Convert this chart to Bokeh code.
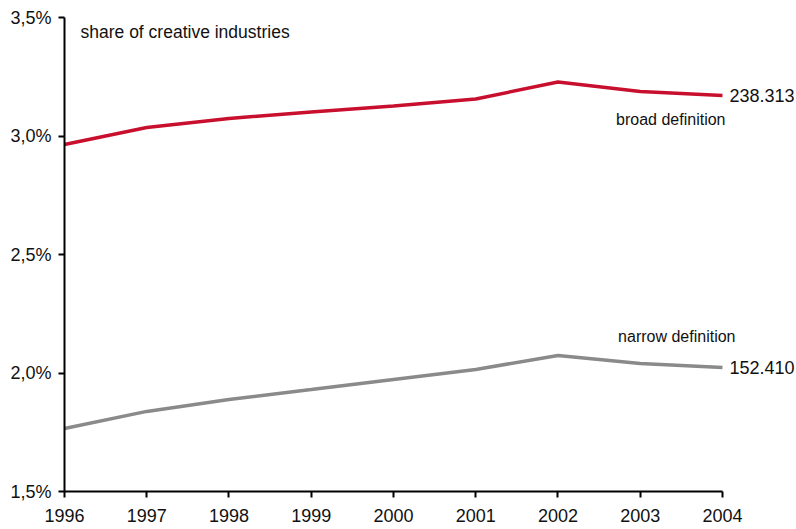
from bokeh.plotting import figure
from bokeh.models import Range1d, CustomJSTickFormatter, FixedTicker, Label
from bokeh.embed import file_html
from bokeh.resources import INLINE

years = [1996, 1997, 1998, 1999, 2000, 2001, 2002, 2003, 2004]
broad = [2.964, 3.036, 3.074, 3.101, 3.127, 3.156, 3.228, 3.188, 3.171]
narrow = [1.766, 1.838, 1.888, 1.930, 1.973, 2.015, 2.074, 2.040, 2.023]
y_ticks = [1.5, 2.0, 2.5, 3.0, 3.5]
end_labels = ["238.313", "152.410"]
series_names = ["broad definition", "narrow definition"]
title_text = "share of creative industries"

FONT = "Liberation Sans"

p = figure(width=796, height=529, output_backend="svg", toolbar_location=None,
           x_range=Range1d(1996, 2004.9), y_range=Range1d(1.5, 3.5),
           min_border_left=64, min_border_right=0, min_border_top=17, min_border_bottom=38)
p.outline_line_color = None
p.grid.grid_line_color = None
p.background_fill_color = "white"
p.border_fill_color = "white"

p.yaxis.ticker = FixedTicker(ticks=y_ticks)
p.xaxis.ticker = FixedTicker(ticks=years)
p.xaxis.bounds = (years[0], years[-1])
p.yaxis.formatter = CustomJSTickFormatter(code="return tick.toFixed(1).replace('.', ',') + '%';")
p.xaxis.formatter = CustomJSTickFormatter(code="return tick.toFixed(0);")
for ax in (p.xaxis, p.yaxis):
    ax.axis_line_color = "black"
    ax.axis_line_width = 2
    ax.major_tick_line_color = "black"
    ax.major_tick_line_width = 2
    ax.major_tick_out = 6
    ax.major_tick_in = 0
    ax.minor_tick_line_color = None
    ax.major_label_text_font = FONT
    ax.major_label_text_font_size = "18px"
    ax.major_label_text_color = "#111111"
p.yaxis.major_label_standoff = 7
p.xaxis.major_label_standoff = 11

p.line(years, broad, line_color="#C8102E", line_width=3.5)
p.line(years, narrow, line_color="#8A8A8A", line_width=3.5)

p.add_layout(Label(x=years[0], y=y_ticks[-1], x_offset=16, y_offset=-14, text=title_text,
                   text_font=FONT, text_font_size="17.5px", text_color="#111111",
                   text_baseline="middle"))
p.add_layout(Label(x=years[-1], y=broad[-1], x_offset=7, text=end_labels[0], text_font=FONT,
                   text_font_size="18px", text_color="#111111", text_baseline="middle"))
p.add_layout(Label(x=years[-1], y=narrow[-1], x_offset=7, text=end_labels[1], text_font=FONT,
                   text_font_size="18px", text_color="#111111", text_baseline="middle"))
p.add_layout(Label(x=years[-1], y=broad[-1], x_offset=3, y_offset=-24, text=series_names[0],
                   text_font=FONT, text_font_size="16px", text_color="#111111",
                   text_align="right", text_baseline="middle"))
p.add_layout(Label(x=years[-1], y=narrow[-1], x_offset=13, y_offset=31, text=series_names[1],
                   text_font=FONT, text_font_size="16px", text_color="#111111",
                   text_align="right", text_baseline="middle"))

open("out.html", "w").write(file_html(p, INLINE))
